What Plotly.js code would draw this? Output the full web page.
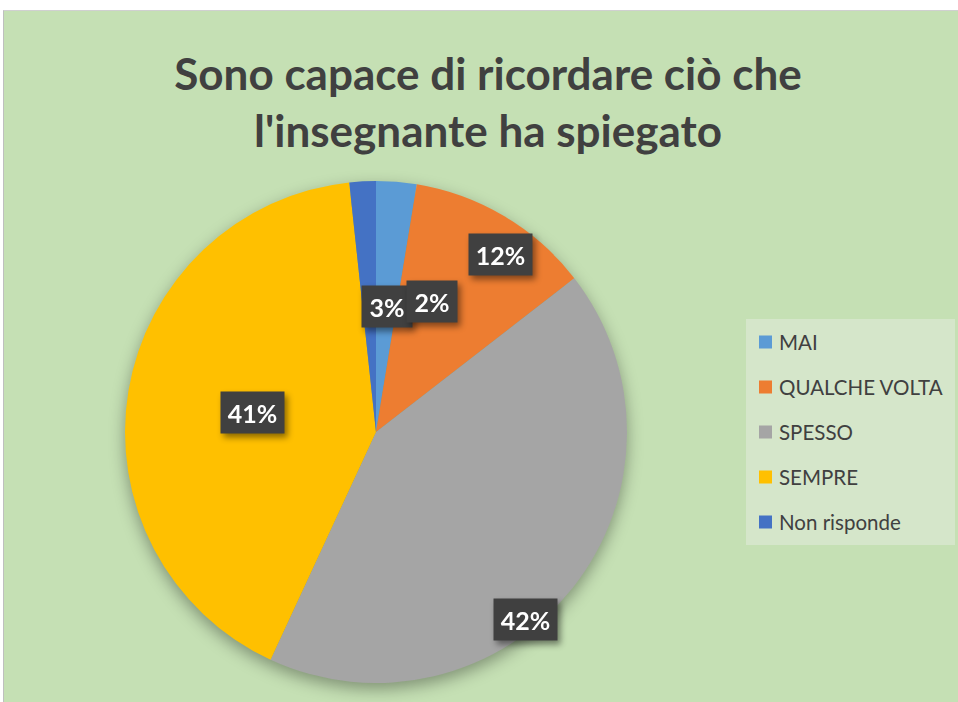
<!DOCTYPE html>
<html><head><meta charset="utf-8">
<script src="https://cdn.plot.ly/plotly-3.0.1.min.js"></script>
<style>
html,body{margin:0;padding:0;background:#fff;width:958px;height:702px;overflow:hidden}
#wrap{position:absolute;left:3px;top:10px;width:955px;height:692px;border-left:1px solid #bfbfbf;border-top:1px solid #d0d0d0;box-sizing:border-box}
#chart{width:954px;height:691px}
.pielayer{filter:drop-shadow(0px 6px 8px rgba(0,0,0,0.35))}
.annotation.lbl{filter:drop-shadow(3px 4px 3px rgba(0,0,0,0.45))}
</style></head>
<body><div id="wrap"><div id="chart"></div></div>
<script>
const categories = ['MAI', 'QUALCHE VOLTA', 'SPESSO', 'SEMPRE', 'Non risponde'];
const values = [2.6, 11.9, 42.4, 41.4, 1.7];
const colors = ['#5B9BD5', '#ED7D31', '#A5A5A5', '#FFC000', '#4472C4'];
const titleText = "Sono capace di ricordare ciò che<br>l'insegnante ha spiegato";

const W = 954, H = 691;
const px = x => (x - 4) / W;
const py = y => 1 - (y - 11) / H;

const total = values.reduce((a, b) => a + b, 0);
const pct = values.map(v => Math.round(v / total * 100) + '%');
// label box centres (reference pixels) in category order
const labelPos = [[387, 306.5], [500.5, 255], [525, 619], [252.5, 413], [432, 301]];
const labelOrder = [0, 4, 1, 3, 2];

const annotations = [];
labelOrder.forEach(i => {
  annotations.push({
    xref: 'paper', yref: 'paper', x: px(labelPos[i][0]), y: py(labelPos[i][1]),
    xanchor: 'center', yanchor: 'middle', showarrow: false,
    text: '<b>' + pct[i] + '</b>',
    font: {family: 'Lato, "Open Sans", sans-serif', size: 25, color: '#ffffff'},
    bgcolor: '#404040', width: pct[i].length > 2 ? 55 : 42, height: 33, borderpad: 4
  });
});
const shapes = [];
// legend box
shapes.push({type: 'rect', xref: 'paper', yref: 'paper', x0: px(746), x1: px(955), y0: py(545), y1: py(319), fillcolor: '#D5E6CA', line: {width: 0}, layer: 'below'});
categories.forEach((c, i) => {
  const cy = 342 + i * 45;
  shapes.push({type: 'rect', xref: 'paper', yref: 'paper', x0: px(759), x1: px(772), y0: py(cy + 6.5), y1: py(cy - 6.5), fillcolor: colors[i], line: {width: 0}});
  annotations.push({
    xref: 'paper', yref: 'paper', x: px(777), y: py(cy), xanchor: 'left', yanchor: 'middle', showarrow: false,
    text: c, font: {family: 'Lato, "Open Sans", sans-serif', size: 20.5, color: '#404040'}
  });
});

const data = [{
  type: 'pie', labels: categories, values: values, sort: false, direction: 'clockwise', rotation: 0,
  marker: {colors: colors, line: {width: 0}}, textinfo: 'none', hoverinfo: 'label+percent',
  domain: {x: [px(125), px(627)], y: [py(683), py(181)]}, showlegend: false
}];

const layout = {
  width: W, height: H, margin: {l: 0, r: 0, t: 0, b: 0},
  paper_bgcolor: '#C5E0B4', plot_bgcolor: '#C5E0B4', showlegend: false,
  title: {text: '<b>' + titleText + '</b>', x: px(488), xanchor: 'center', y: py(90), yanchor: 'middle', yref: 'paper',
    font: {family: 'Lato, "Open Sans", sans-serif', size: 44, color: '#404040'}},
  annotations: annotations, shapes: shapes
};
Plotly.newPlot('chart', data, layout, {staticPlot: true, displayModeBar: false}).then(() => {
  document.querySelectorAll('.annotation').forEach((g, k) => { if (k < labelOrder.length) g.classList.add('lbl'); });
});
</script></body></html>
